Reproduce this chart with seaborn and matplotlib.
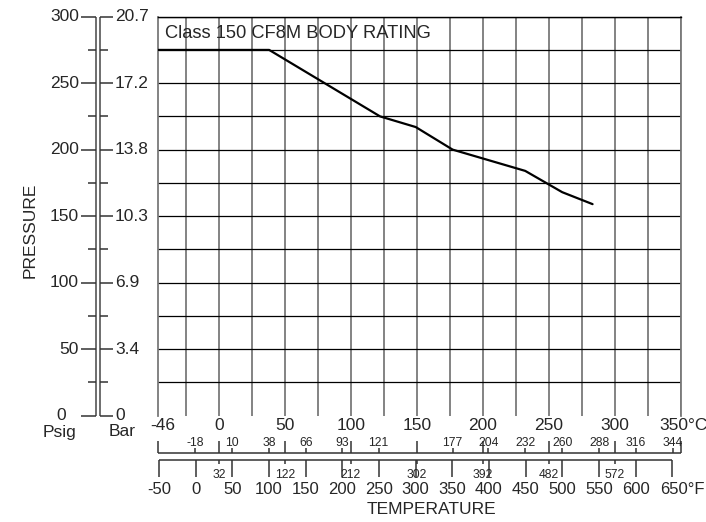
import matplotlib
matplotlib.use('Agg')
import matplotlib.pyplot as plt
import matplotlib.transforms as mtransforms
import seaborn as sns

# Rating curve (deg C, psig)
temp_c = [-46, 38, 122, 149, 177, 232, 260, 283]
pressure_psig = [275, 275, 225, 217, 200, 184, 168, 159]

# Scales
psig_major = [0, 50, 100, 150, 200, 250, 300]
psig_minor = [25, 75, 125, 175, 225, 275]
bar_labels = ['0', '3.4', '6.9', '10.3', '13.8', '17.2', '20.7']
c_major = [0, 50, 100, 150, 200, 250, 300, 350]
c_from_f = [-18, 10, 38, 66, 93, 121, 177, 204, 232, 260, 288, 316, 344]
f_major = [-50, 0, 50, 100, 150, 200, 250, 300, 350, 400, 450, 500, 550, 600, 650]
f_from_c = [32, 122, 212, 302, 392, 482, 572]

sns.set_style('white')
plt.rcParams['font.family'] = ['Liberation Sans', 'DejaVu Sans']

W, H = 706, 522
fig = plt.figure(figsize=(W / 100, H / 100), dpi=100)
ax = fig.add_axes([158.3 / W, 1 - 415.5 / H, (681 - 158.3) / W, (415.5 - 16.7) / H])


def fx(p):
    return p / W


def fy(p):
    return 1 - p / H


def f2c(f):
    return (f - 32) * 5 / 9


grey = '#7a7a7a'
dark = '#333333'

# grid
for x in range(-25, 351, 25):
    ax.axvline(x, color=grey, lw=1.3, zorder=1)
for y in range(25, 301, 25):
    ax.axhline(y, color='black', lw=0.9, zorder=1)

sns.lineplot(x=temp_c, y=pressure_psig, color='black', lw=1.6, sort=False, ax=ax, zorder=3)

ax.set_xlim(-46, 350)
ax.set_ylim(0, 300)
ax.set_xticks([])
ax.set_yticks([])
ax.set_xlabel('')
ax.set_ylabel('')
ax.spines['bottom'].set_visible(False)
ax.spines['left'].set_color(grey)
ax.spines['right'].set_color(grey)
ax.spines['left'].set_linewidth(1.3)
ax.spines['right'].set_linewidth(1.3)
ax.spines['top'].set_color('black')
ax.spines['top'].set_linewidth(1.0)

fig.text(fx(165), fy(33), 'Class 150 CF8M BODY RATING', fontsize=13.2, ha='left', va='center')

# left pressure scales
tl = mtransforms.blended_transform_factory(fig.transFigure, ax.transData)


def seg(x0, y0, x1, y1, tr, color=dark, lw=1.1):
    ax.plot([x0, x1], [y0, y1], color=color, lw=lw, transform=tr, clip_on=False, solid_capstyle='butt')


seg(fx(95.5), 0, fx(95.5), 300, tl, color='#555555', lw=1.2)
seg(fx(100.5), 0, fx(100.5), 300, tl, color='#555555', lw=1.2)
for p, lab in zip(psig_major, bar_labels):
    seg(fx(81), p, fx(95.5), p, tl)
    seg(fx(100.5), p, fx(113), p, tl)
    if p == 0:
        ax.text(fx(61), p, '0', transform=tl, ha='center', va='center', fontsize=12.5)
    else:
        ax.text(fx(79), p, str(p), transform=tl, ha='right', va='center', fontsize=12.5)
    ax.text(fx(115), p, lab, transform=tl, ha='left', va='center', fontsize=12.5)
for p in psig_minor:
    seg(fx(88), p, fx(95.5), p, tl)
    seg(fx(100.5), p, fx(107.5), p, tl)

fig.text(fx(59), fy(432), 'Psig', ha='center', va='center', fontsize=12.5)
fig.text(fx(122), fy(432), 'Bar', ha='center', va='center', fontsize=12.5)
fig.text(fx(30), fy(230), 'PRESSURE', rotation=90, ha='center', va='center', fontsize=12.5)

# bottom temperature scales
tb = mtransforms.blended_transform_factory(ax.transData, fig.transFigure)

ax.text(-43, fy(425), '-46', transform=tb, ha='center', va='center', fontsize=12.5)
for c in c_major[:-1]:
    ax.text(c, fy(425), str(c), transform=tb, ha='center', va='center', fontsize=12.5)
ax.text((659 - 219) / 1.32, fy(425), '350°C', transform=tb, ha='left', va='center', fontsize=12.5)

# deg C line
seg(-46, fy(452.7), 350, fy(452.7), tb)
for c in [-46] + c_major:
    seg(c, fy(441), c, fy(452.7), tb)
for c in c_from_f:
    seg(c, fy(448), c, fy(452.7), tb)
    ax.text(c, fy(442.5), str(c), transform=tb, ha='center', va='center', fontsize=8.7)

# deg F line
seg(f2c(-50), fy(460), f2c(650), fy(460), tb)
for f in f_major:
    seg(f2c(f), fy(460), f2c(f), fy(476.7), tb)
for f in f_from_c:
    seg(f2c(f), fy(460), f2c(f), fy(464.3), tb)
    ax.text(f2c(f), fy(474.5), str(f), transform=tb, ha='center', va='center', fontsize=8.7)

for f in f_major[:-1]:
    ax.text(f2c(f), fy(490), str(f), transform=tb, ha='center', va='center', fontsize=12)
ax.text((660 - 219) / 1.32, fy(490), '650°F', transform=tb, ha='left', va='center', fontsize=12)

fig.text(fx(431), fy(510), 'TEMPERATURE', ha='center', va='center', fontsize=12.5)

fig.savefig('out.png', dpi=100)
